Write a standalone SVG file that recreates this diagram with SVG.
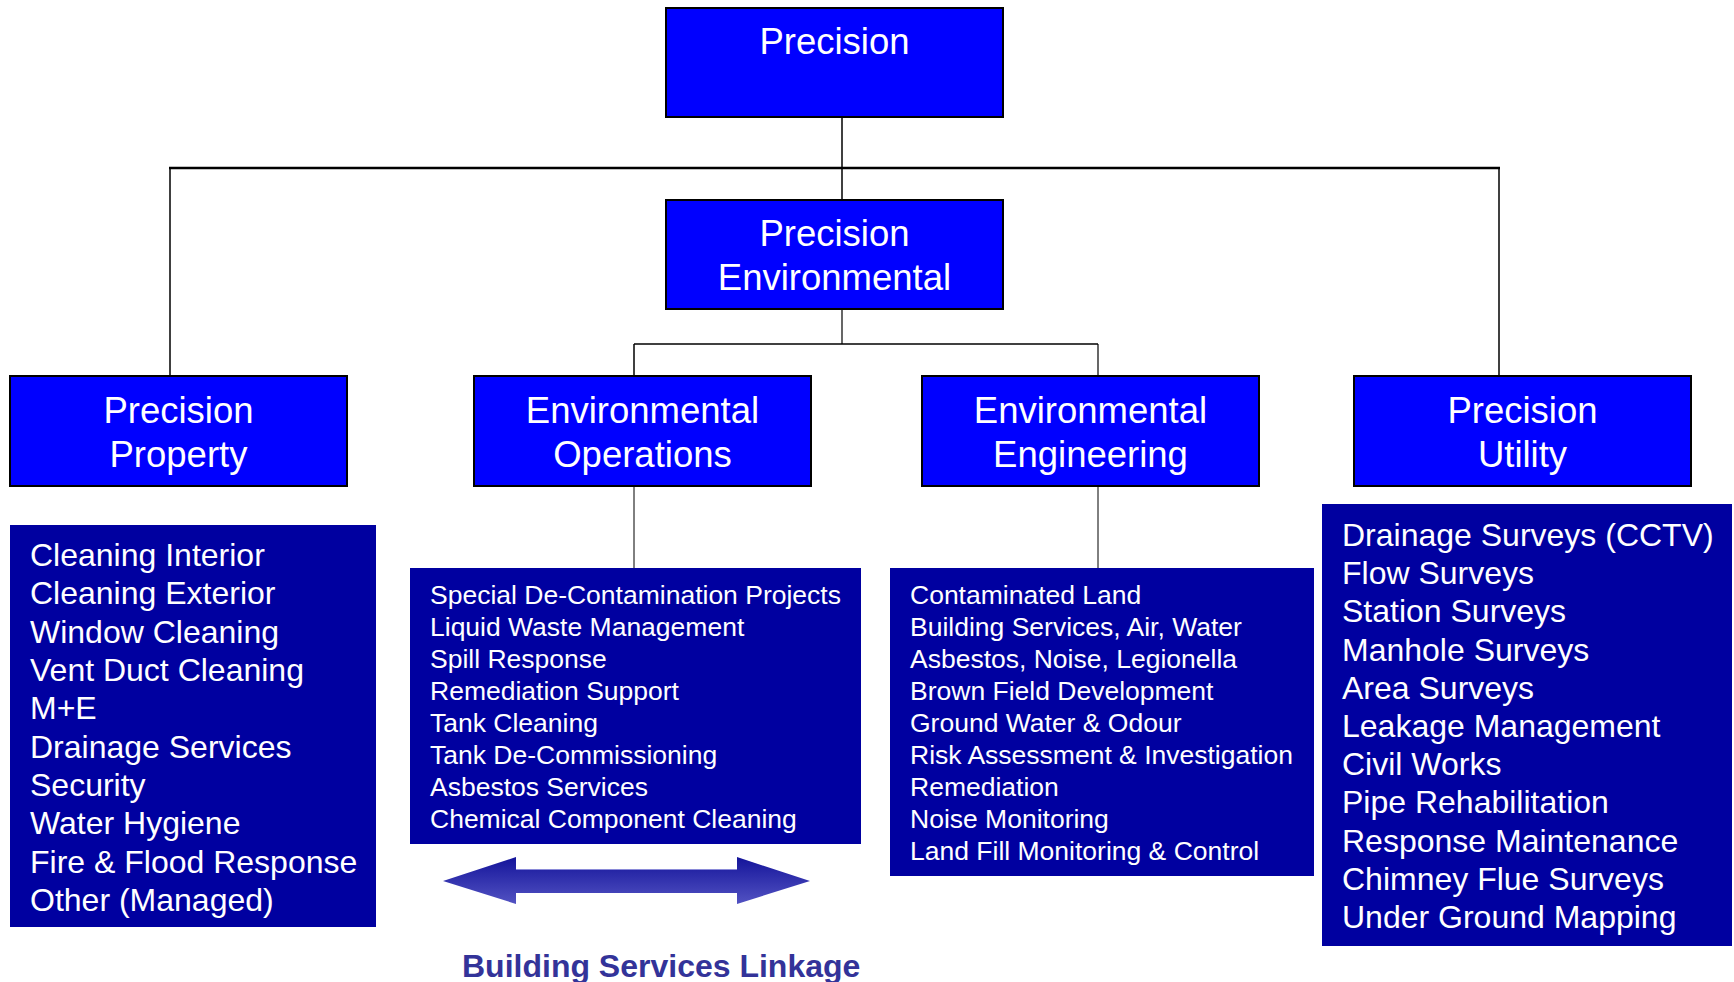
<svg xmlns="http://www.w3.org/2000/svg" width="1734" height="982" viewBox="0 0 1734 982">
<style>
.hdr{fill:#0000FF;stroke:#000;stroke-width:2}
.lst{fill:#0000A0}
.ht{font-family:"Liberation Sans",Arial,sans-serif;font-size:36.5px;fill:#fff;text-anchor:middle}
.lt{font-family:"Liberation Sans",Arial,sans-serif;font-size:32px;fill:#fff}
.st{font-family:"Liberation Sans",Arial,sans-serif;font-size:26.5px;fill:#fff}
.cn{stroke:#000;fill:none}
</style>
<defs>
<linearGradient id="ag" x1="0" y1="0" x2="0" y2="1">
<stop offset="0" stop-color="#14149a"/>
<stop offset="1" stop-color="#5252c2"/>
</linearGradient>
</defs>
<rect width="1734" height="982" fill="#fff"/>
<g id="connectors">
<line class="cn" x1="842" y1="117" x2="842" y2="200" stroke-width="1.5"/>
<line class="cn" x1="169" y1="168" x2="1500" y2="168" stroke-width="2.5"/>
<line class="cn" x1="170" y1="168" x2="170" y2="376" stroke-width="1.5"/>
<line class="cn" x1="1499" y1="168" x2="1499" y2="376" stroke-width="1.5"/>
<line class="cn" x1="842" y1="309" x2="842" y2="344" stroke-width="1.2"/>
<line class="cn" x1="634" y1="344" x2="1098" y2="344" stroke-width="1.5"/>
<line class="cn" x1="634" y1="344" x2="634" y2="376" stroke-width="1.5"/>
<line class="cn" x1="1098" y1="344" x2="1098" y2="376" stroke-width="1.2"/>
<line class="cn" x1="634" y1="486" x2="634" y2="568" stroke-width="1"/>
<line class="cn" x1="1098" y1="486" x2="1098" y2="568" stroke-width="1"/>
</g>
<g id="precision">
<rect class="hdr" x="666" y="8" width="337" height="109"/>
<text class="ht" x="834.5" y="54">Precision</text>
</g>
<g id="precision-environmental">
<rect class="hdr" x="666" y="200" width="337" height="109"/>
<text class="ht" x="834.5" y="246">Precision</text>
<text class="ht" x="834.5" y="290">Environmental</text>
</g>
<g id="precision-property">
<rect class="hdr" x="10" y="376" width="337" height="110"/>
<text class="ht" x="178.5" y="423">Precision</text>
<text class="ht" x="178.5" y="467">Property</text>
</g>
<g id="environmental-operations">
<rect class="hdr" x="474" y="376" width="337" height="110"/>
<text class="ht" x="642.5" y="423">Environmental</text>
<text class="ht" x="642.5" y="467">Operations</text>
</g>
<g id="environmental-engineering">
<rect class="hdr" x="922" y="376" width="337" height="110"/>
<text class="ht" x="1090.5" y="423">Environmental</text>
<text class="ht" x="1090.5" y="467">Engineering</text>
</g>
<g id="precision-utility">
<rect class="hdr" x="1354" y="376" width="337" height="110"/>
<text class="ht" x="1522.5" y="423">Precision</text>
<text class="ht" x="1522.5" y="467">Utility</text>
</g>
<g id="property-services">
<rect class="lst" x="10" y="525" width="366" height="402"/>
<text class="lt" x="30" y="566">Cleaning Interior</text>
<text class="lt" x="30" y="604.3">Cleaning Exterior</text>
<text class="lt" x="30" y="642.7">Window Cleaning</text>
<text class="lt" x="30" y="681">Vent Duct Cleaning</text>
<text class="lt" x="30" y="719.3">M+E</text>
<text class="lt" x="30" y="757.7">Drainage Services</text>
<text class="lt" x="30" y="796">Security</text>
<text class="lt" x="30" y="834.3">Water Hygiene</text>
<text class="lt" x="30" y="872.7">Fire &amp; Flood Response</text>
<text class="lt" x="30" y="911">Other (Managed)</text>
</g>
<g id="operations-services">
<rect class="lst" x="410" y="568" width="451" height="276"/>
<text class="st" x="430" y="604">Special De-Contamination Projects</text>
<text class="st" x="430" y="636">Liquid Waste Management</text>
<text class="st" x="430" y="668">Spill Response</text>
<text class="st" x="430" y="700">Remediation Support</text>
<text class="st" x="430" y="732">Tank Cleaning</text>
<text class="st" x="430" y="764">Tank De-Commissioning</text>
<text class="st" x="430" y="796">Asbestos Services</text>
<text class="st" x="430" y="828">Chemical Component Cleaning</text>
</g>
<g id="engineering-services">
<rect class="lst" x="890" y="568" width="424" height="308"/>
<text class="st" x="910" y="604">Contaminated Land</text>
<text class="st" x="910" y="636">Building Services, Air, Water</text>
<text class="st" x="910" y="668">Asbestos, Noise, Legionella</text>
<text class="st" x="910" y="700">Brown Field Development</text>
<text class="st" x="910" y="732">Ground Water &amp; Odour</text>
<text class="st" x="910" y="764">Risk Assessment &amp; Investigation</text>
<text class="st" x="910" y="796">Remediation</text>
<text class="st" x="910" y="828">Noise Monitoring</text>
<text class="st" x="910" y="860">Land Fill Monitoring &amp; Control</text>
</g>
<g id="utility-services">
<rect class="lst" x="1322" y="504" width="410" height="442"/>
<text class="lt" x="1342" y="546">Drainage Surveys (CCTV)</text>
<text class="lt" x="1342" y="584.2">Flow Surveys</text>
<text class="lt" x="1342" y="622.4">Station Surveys</text>
<text class="lt" x="1342" y="660.6">Manhole Surveys</text>
<text class="lt" x="1342" y="698.8">Area Surveys</text>
<text class="lt" x="1342" y="737">Leakage Management</text>
<text class="lt" x="1342" y="775.2">Civil Works</text>
<text class="lt" x="1342" y="813.4">Pipe Rehabilitation</text>
<text class="lt" x="1342" y="851.6">Response Maintenance</text>
<text class="lt" x="1342" y="889.8">Chimney Flue Surveys</text>
<text class="lt" x="1342" y="928">Under Ground Mapping</text>
</g>
<g id="building-services-linkage">
<polygon points="443,881 516,857 516,869 737,869 737,857 810,881 737,904 737,893 516,893 516,904" fill="url(#ag)"/>
<line x1="516" y1="869.5" x2="737" y2="869.5" stroke="#8a8ad8" stroke-width="1"/>
<text x="462" y="977" font-family="'Liberation Sans',Arial,sans-serif" font-size="32" font-weight="bold" fill="#333399">Building Services Linkage</text>
</g>
</svg>
